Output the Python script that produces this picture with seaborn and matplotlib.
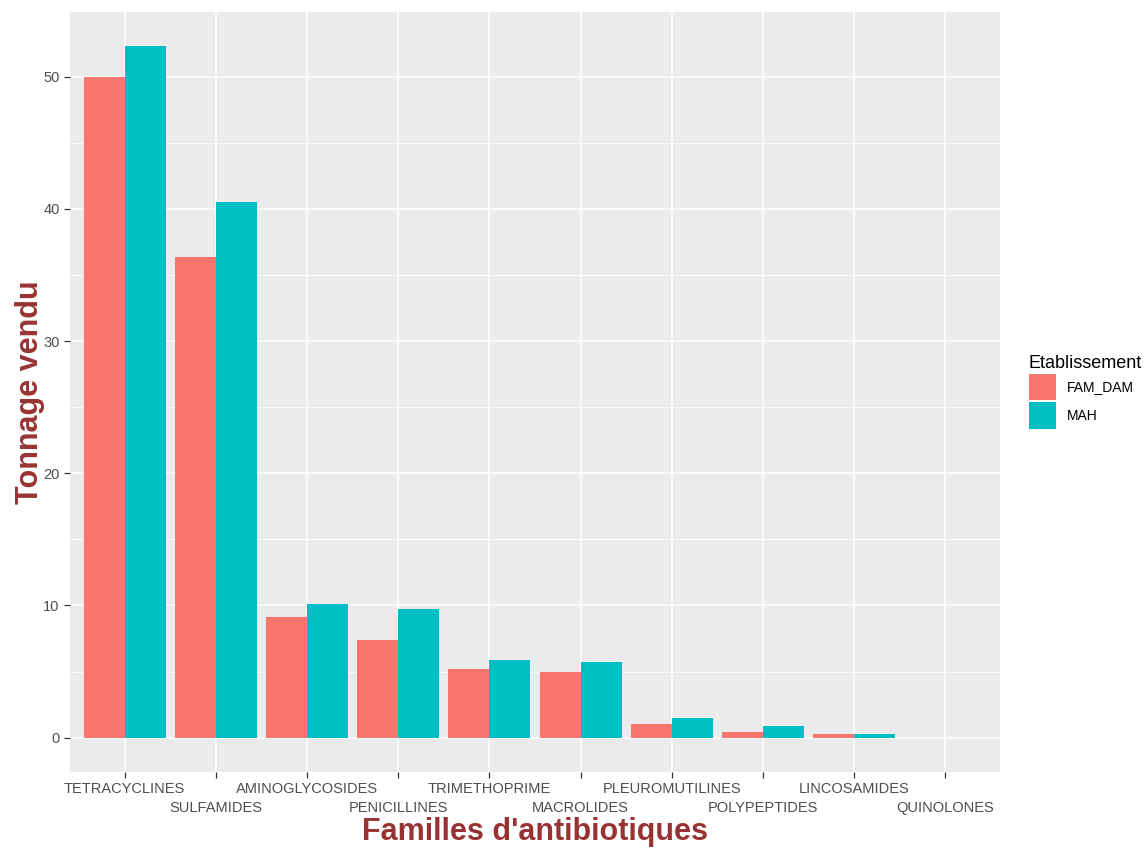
import numpy as np
import pandas as pd
import seaborn as sns
import matplotlib.pyplot as plt
from matplotlib.patches import Patch
from matplotlib.ticker import MultipleLocator

familles = ['TETRACYCLINES', 'SULFAMIDES', 'AMINOGLYCOSIDES', 'PENICILLINES',
            'TRIMETHOPRIME', 'MACROLIDES', 'PLEUROMUTILINES', 'POLYPEPTIDES',
            'LINCOSAMIDES', 'QUINOLONES']
fam_dam = [50.0, 36.4, 9.1, 7.4, 5.2, 5.0, 1.0, 0.45, 0.25, 0.0]
mah = [52.3, 40.5, 10.1, 9.7, 5.9, 5.7, 1.45, 0.9, 0.3, 0.0]
etabs = ['FAM_DAM', 'MAH']
couleurs = ['#F8766D', '#00BFC4']

df = pd.DataFrame({
    'Famille': familles * 2,
    'Tonnage': fam_dam + mah,
    'Etablissement': [etabs[0]] * len(familles) + [etabs[1]] * len(familles),
})

plt.rcParams['font.family'] = ['Liberation Sans', 'DejaVu Sans']
fig = plt.figure(figsize=(11.48, 8.48), dpi=100)
ax = fig.add_axes([70 / 1148, 76 / 848, 930 / 1148, 760 / 848])
ax.set_facecolor('#EBEBEB')

sns.barplot(df, x='Famille', y='Tonnage', hue='Etablissement', order=familles,
            hue_order=etabs, palette=couleurs, width=0.9, saturation=1,
            legend=False, ax=ax)
for p in ax.patches:
    p.set_edgecolor('none')
    if p.get_height() == 0:
        p.set_visible(False)

ax.set_xlim(-0.6, len(familles) - 0.4)
ax.set_ylim(-2.6, 54.9)
ax.yaxis.set_major_locator(MultipleLocator(10))
ax.yaxis.set_minor_locator(MultipleLocator(5))
ax.set_axisbelow(True)
ax.grid(which='major', axis='both', color='white', lw=1.1)
ax.grid(which='minor', axis='y', color='white', lw=0.55)
ax.tick_params(which='minor', length=0)
ax.tick_params(which='major', length=4, color='#333333', labelcolor='#4D4D4D',
               labelsize=10.5, width=0.9)
for s in ax.spines.values():
    s.set_visible(False)

# etiquettes sur deux rangs comme guide_axis(n.dodge = 2)
ax.set_xticks(range(len(familles)))
ax.set_xticklabels(familles)
for i, tick in enumerate(ax.xaxis.get_major_ticks()):
    tick.set_pad(3.0 if i % 2 == 0 else 16.7)

ax.set_xlabel("Familles d'antibiotiques", fontsize=22, fontweight='bold',
              color='#993333', labelpad=1.5)
ax.set_ylabel('Tonnage vendu', fontsize=22, fontweight='bold',
              color='#993333', labelpad=-1)

handles = [Patch(facecolor=c, edgecolor='none', label=e) for c, e in zip(couleurs, etabs)]
fig.legend(handles=handles, title='Etablissement', loc='center left',
           bbox_to_anchor=(1016 / 1148, 1 - 392 / 848), frameon=False, fontsize=10,
           title_fontsize=13, handlelength=1.95, handleheight=2.6,
           labelspacing=0.1, handletextpad=0.8, alignment='left')

fig.savefig('out.png', dpi=100)
